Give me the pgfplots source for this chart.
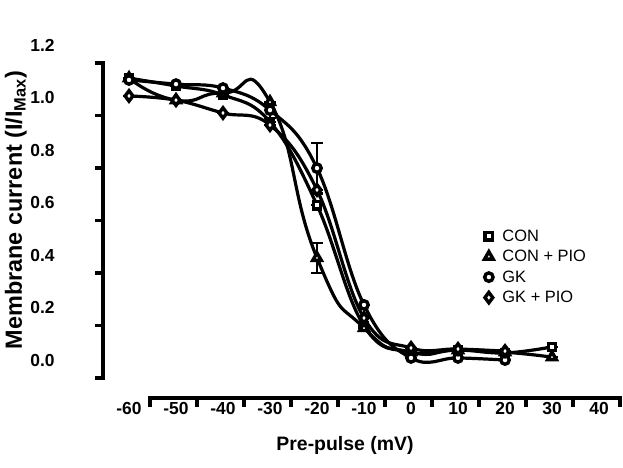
\documentclass[border=0pt]{standalone}
\usepackage{fontspec}
\setmainfont{Liberation Sans}
\usepackage{pgfplots}
\pgfplotsset{compat=1.18}
\begin{document}
\begin{tikzpicture}[x=1bp,y=1bp]
\useasboundingbox (0,0) rectangle (623,468);
\begin{axis}[
  at={(100.8bp,69.9bp)}, anchor=south west,
  x=4.7bp, y=262.5bp,
  xmin=-66, xmax=45.5, ymin=-0.145, ymax=1.37,
  clip=false,
  axis line style={draw=none},
  major tick length=0pt,
  xtick={-60,-50,-40,-30,-20,-10,0,10,20,30,40},
  xticklabels={-60,-50,-40,-30,-20,-10,0,10,20,30,40},
  ytick={0,0.2,0.4,0.6,0.8,1.0,1.2},
  yticklabels={0.0,0.2,0.4,0.6,0.8,1.0,1.2},
  xticklabel style={font=\fontsize{17.5}{20}\selectfont\bfseries, anchor=center, inner sep=0pt, yshift=-10bp},
  yticklabel style={font=\fontsize{17.5}{20}\selectfont\bfseries, anchor=east, inner sep=0pt, xshift=-46bp},
  xlabel={Pre-pulse (mV)},
  ylabel={Membrane current (I/I\textsubscript{Max})},
  xlabel style={font=\fontsize{19.5}{22}\selectfont\bfseries, at={(axis description cs:0.466,-0.118)}, anchor=center},
  ylabel style={font=\fontsize{23.5}{26}\selectfont\bfseries, at={(axis description cs:-0.162,0.473)}, anchor=center},
  error bars/error bar style={line width=2.6bp, black},
  error bars/error mark options={rotate=90, mark size=6bp, line width=2.6bp, black},
  legend image code/.code={\draw[#1,only marks] plot coordinates {(0.25cm,0cm)}; \path (0.62cm,0cm);},
  legend style={at={(axis cs:15.6,0.503)}, anchor=north west, draw=none, fill=none,
     font=\fontsize{16.5}{20}\selectfont, inner sep=0pt, row sep=4.5bp,
     nodes={inner sep=1.5bp}},
  legend cell align=left,
]
% axis lines and tick marks (offset as in the original figure)
\draw[line width=4.5bp, line cap=rect] (axis cs:-55.5,-0.145) -- (axis cs:44.5,-0.145);
\pgfplotsinvokeforeach{-55.5,-45.5,-35.5,-25.5,-15.5,-5.5,4.5,14.5,24.5,34.5,44.5}{
  \draw[line width=3.5bp] (axis cs:#1,-0.145) -- (axis cs:#1,-0.18);
}
\draw[line width=4.5bp, line cap=rect] (axis cs:-65.5,-0.069) -- (axis cs:-65.5,1.131);
\pgfplotsinvokeforeach{-0.069,0.131,0.331,0.531,0.731,0.931,1.131}{
  \draw[line width=3.5bp] (axis cs:-65.5,#1) -- (axis cs:-67.2,#1);
}

\addplot[black, line width=3.2bp, smooth, tension=0.7,
  mark=square*, mark size=3.7bp,
  mark options={fill=white, draw=black, line width=3.4bp, solid},
  error bars/.cd, y dir=both, y explicit]
  table[x=x, y=y, y error=e] {
x y e
-60 1.074 0
-50 1.044 0
-40 1.010 0
-30 0.907 0
-20 0.590 0
-10 0.130 0
0 0.030 0
10 0.038 0
20 0.027 0
30 0.050 0
};
\addlegendentry{CON}
\addplot[black, line width=3.2bp, smooth, tension=1,
  mark=triangle*, mark size=5bp,
  mark options={fill=white, draw=black, line width=3.4bp, solid},
  error bars/.cd, y dir=both, y explicit]
  table[x=x, y=y, y error=e] {
x y e
-60 1.074 0
-50 0.990 0
-40 1.017 0
-30 0.983 0
-20 0.389 0.057
-10 0.122 0
0 0.030 0
10 0.038 0
20 0.030 0
30 0.011 0
};
\addlegendentry{CON + PIO}
\addplot[black, line width=3.2bp, smooth, tension=0.7,
  mark=*, mark size=4.2bp,
  mark options={fill=white, draw=black, line width=3.4bp, solid},
  error bars/.cd, y dir=both, y explicit]
  table[x=x, y=y, y error=e] {
x y e
-60 1.067 0
-50 1.051 0
-40 1.036 0
-30 0.952 0.03
-20 0.731 0.096
-10 0.210 0
0 0.008 0
10 0.008 0
20 0.000 0
};
\addlegendentry{GK}
\addplot[black, line width=3.2bp, smooth, tension=0.7,
  mark=diamond*, mark size=5.2bp,
  mark options={fill=white, draw=black, line width=3.4bp, solid},
  error bars/.cd, y dir=both, y explicit]
  table[x=x, y=y, y error=e] {
x y e
-60 1.006 0
-50 0.990 0
-40 0.941 0
-30 0.895 0
-20 0.648 0
-10 0.160 0
0 0.046 0
10 0.042 0
20 0.034 0
};
\addlegendentry{GK + PIO}
\end{axis}
\end{tikzpicture}
\end{document}
